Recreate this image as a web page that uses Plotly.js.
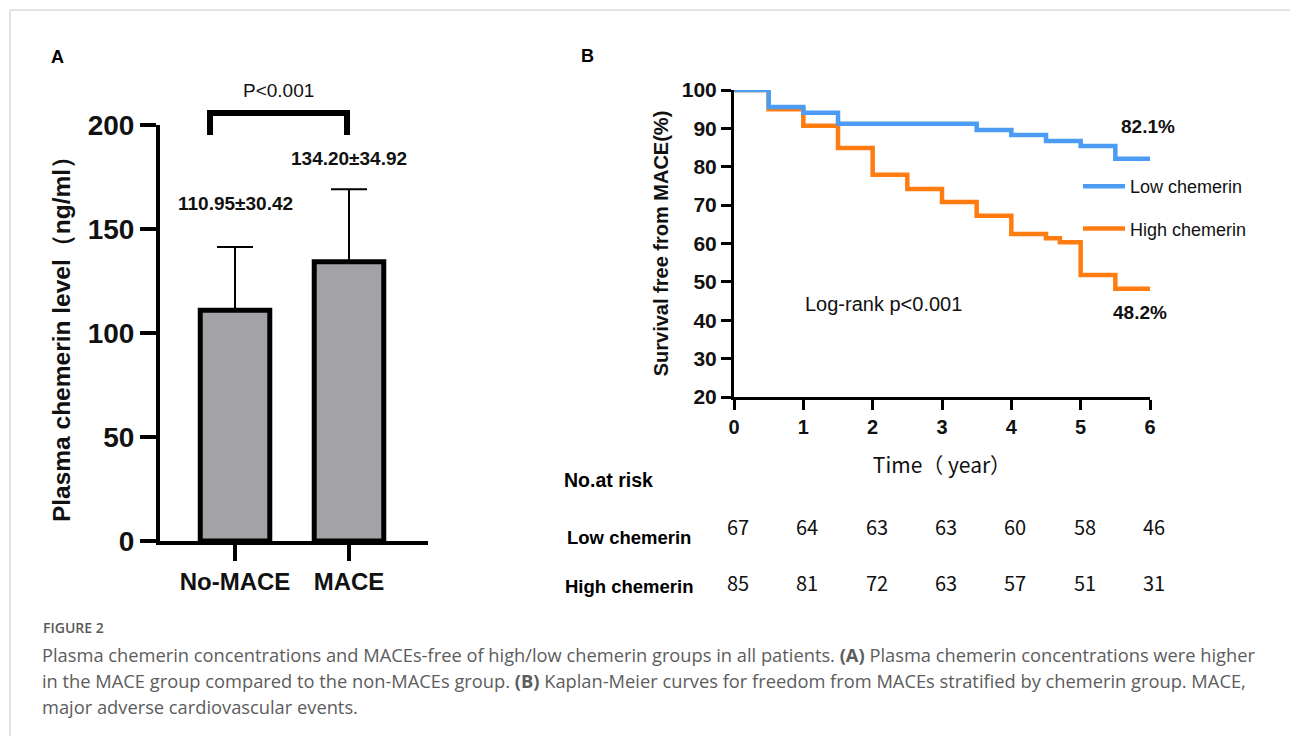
<!DOCTYPE html>
<html>
<head>
<meta charset="utf-8">
<script src="https://cdn.plot.ly/plotly-3.0.1.min.js"></script>
<style>html,body{margin:0;padding:0;background:#fff;}#chart{width:1290px;height:736px;}</style>
</head>
<body>
<div id="chart"></div>
<script>
// ---- Panel A data ----
const groups = ['No-MACE', 'MACE'];
const means = [110.95, 134.20];
const sds = [30.42, 34.92];
const pValueText = 'P<0.001';

// ---- Panel B data (Kaplan-Meier step points) ----
const seriesNames = ['Low chemerin', 'High chemerin'];
const lowTime = [0, 0.5, 1.0, 1.5, 3.5, 4.0, 4.5, 5.0, 5.5, 6.0];
const lowSurv = [100, 95.6, 94.1, 91.2, 89.6, 88.3, 86.7, 85.4, 82.1, 82.1];
const highTime = [0, 0.5, 1.0, 1.5, 2.0, 2.5, 3.0, 3.5, 4.0, 4.5, 4.7, 5.0, 5.5, 6.0];
const highSurv = [100, 95.0, 90.7, 84.9, 77.9, 74.2, 70.8, 67.2, 62.5, 61.4, 60.3, 51.8, 48.2, 48.2];
const logRankText = 'Log-rank p<0.001';

// ---- Number at risk ----
const riskTimes = [0, 1, 2, 3, 4, 5, 6];
const riskLow = [67, 64, 63, 63, 60, 58, 46];
const riskHigh = [85, 81, 72, 63, 57, 51, 31];

const W = 1290, H = 736;
const px = v => v / W;
const py = v => 1 - v / H;
const ARIAL = 'Liberation Sans, Arial, sans-serif';
const CJK = 'Noto Sans CJK SC, sans-serif';
const BLUE = '#4d9cf4';
const ORANGE = '#ff7d10';

const traces = [
  {
    type: 'bar', x: groups, y: means, xaxis: 'x', yaxis: 'y',
    width: 0.61,
    marker: {color: '#a3a2a7', line: {color: '#000', width: 5}},
    error_y: {type: 'data', symmetric: false, array: sds, arrayminus: sds.map(() => 0),
              color: '#000', thickness: 2, width: 18},
    showlegend: false, hoverinfo: 'x+y'
  },
  {
    type: 'scatter', mode: 'lines', x: highTime, y: highSurv, xaxis: 'x2', yaxis: 'y2',
    name: seriesNames[1], legendgroup: 'high', legendrank: 2, cliponaxis: false,
    line: {shape: 'hv', color: ORANGE, width: 4.5}
  },
  {
    type: 'scatter', mode: 'lines', x: lowTime, y: lowSurv, xaxis: 'x2', yaxis: 'y2',
    name: seriesNames[0], legendgroup: 'low', legendrank: 1, cliponaxis: false,
    line: {shape: 'hv', color: BLUE, width: 4.5}
  }
];

const annotations = [];
function ann(o) {
  annotations.push(Object.assign({showarrow: false, xanchor: 'center', yanchor: 'middle'}, o));
}
// panel letters
ann({xref: 'paper', yref: 'paper', x: px(57), y: py(57), text: '<b>A</b>', font: {family: ARIAL, size: 18, color: '#000'}});
ann({xref: 'paper', yref: 'paper', x: px(587), y: py(56), text: '<b>B</b>', font: {family: ARIAL, size: 18, color: '#000'}});
// P value
ann({xref: 'paper', yref: 'paper', x: px(278), y: py(91), text: pValueText, font: {family: ARIAL, size: 19, color: '#111'}});
// mean ± sd labels
const labelOffsets = [21, 15];
groups.forEach((g, i) => {
  ann({xref: 'x', yref: 'y', x: g, y: means[i] + sds[i] + labelOffsets[i],
    text: '<b>' + means[i].toFixed(2) + '±' + sds[i].toFixed(2) + '</b>',
    font: {family: ARIAL, size: 19, color: '#111'}});
});
// final survival labels
ann({xref: 'x2', yref: 'y2', x: 5.97, y: lowSurv[lowSurv.length - 1] + 8.5,
  text: '<b>' + lowSurv[lowSurv.length - 1].toFixed(1) + '%</b>', font: {family: ARIAL, size: 19, color: '#111'}});
ann({xref: 'x2', yref: 'y2', x: 5.86, y: highSurv[highSurv.length - 1] - 6.1,
  text: '<b>' + highSurv[highSurv.length - 1].toFixed(1) + '%</b>', font: {family: ARIAL, size: 19, color: '#111'}});
ann({xref: 'x2', yref: 'y2', x: 2.16, y: 44.2, text: logRankText, font: {family: ARIAL, size: 20, color: '#111'}});
// number at risk
ann({xref: 'paper', yref: 'paper', x: px(562), y: py(480), xanchor: 'left', text: '<b>No.at risk</b>',
  font: {family: ARIAL, size: 19.5, color: '#000'}});
ann({xref: 'paper', yref: 'paper', x: px(565), y: py(537), xanchor: 'left', text: '<b>' + seriesNames[0] + '</b>',
  font: {family: ARIAL, size: 18.5, color: '#000'}});
ann({xref: 'paper', yref: 'paper', x: px(563), y: py(586), xanchor: 'left', text: '<b>' + seriesNames[1] + '</b>',
  font: {family: ARIAL, size: 18.5, color: '#000'}});
riskTimes.forEach((t, i) => {
  ann({xref: 'x2', yref: 'paper', x: t, xshift: 4, y: py(526), text: String(riskLow[i]),
    font: {family: CJK, size: 20, color: '#111'}});
  ann({xref: 'x2', yref: 'paper', x: t, xshift: 4, y: py(582), text: String(riskHigh[i]),
    font: {family: CJK, size: 20, color: '#111'}});
});
// caption
const capFont = {family: 'Open Sans, sans-serif', size: 18.3, color: '#5c5c5c'};
ann({xref: 'paper', yref: 'paper', x: px(41), y: py(627), xanchor: 'left', text: 'FIGURE 2',
  font: {family: 'Open Sans, sans-serif', size: 14, weight: 600, color: '#5a5a5a'}});
const capLines = [
  'Plasma chemerin concentrations and MACEs-free of high/low chemerin groups in all patients. <b>(A)</b> Plasma chemerin concentrations were higher',
  'in the MACE group compared to the non-MACEs group. <b>(B)</b> Kaplan-Meier curves for freedom from MACEs stratified by chemerin group. MACE,',
  'major adverse cardiovascular events.'
];
const capY = [654, 680, 706];
capLines.forEach((t, i) => ann({xref: 'paper', yref: 'paper', x: px(40), y: py(capY[i]), xanchor: 'left',
  text: t, font: capFont}));

const shapes = [
  // figure frame (top and left)
  {type: 'line', xref: 'paper', yref: 'paper', x0: px(10), x1: 1, y0: py(10), y1: py(10), line: {color: '#c8c8c8', width: 1}},
  {type: 'line', xref: 'paper', yref: 'paper', x0: px(10), x1: px(10), y0: 0, y1: py(10), line: {color: '#c8c8c8', width: 1}},
  // significance bracket
  {type: 'path', xref: 'x domain', yref: 'y domain',
   path: 'M 0.1866 0.976 L 0.1866 1.0288 L 0.6978 1.0288 L 0.6978 0.976', line: {color: '#000', width: 6}}
];

const layout = {
  width: W, height: H,
  margin: {l: 0, r: 0, t: 0, b: 0},
  paper_bgcolor: '#fff', plot_bgcolor: '#fff',
  font: {family: ARIAL, color: '#000'},
  showlegend: true,
  legend: {x: px(1078), y: py(168), xanchor: 'left', yanchor: 'top', traceorder: 'grouped',
           tracegroupgap: 16, itemwidth: 42, font: {family: ARIAL, size: 18, color: '#111'}, bgcolor: 'rgba(0,0,0,0)'},
  xaxis: {domain: [px(160), px(428)], anchor: 'y', type: 'category', range: [-0.658, 1.693],
          showline: true, linecolor: '#000', linewidth: 4, ticks: 'outside', ticklen: 16, tickwidth: 4, tickcolor: '#000',
          tickfont: {family: ARIAL, size: 24, weight: 'bold', color: '#111'}, showgrid: false, zeroline: false},
  yaxis: {domain: [py(541), py(125)], anchor: 'x', range: [0, 200], dtick: 50, tick0: 0,
          showline: true, linecolor: '#000', linewidth: 4, ticks: 'outside', ticklen: 16, tickwidth: 4, tickcolor: '#000',
          tickfont: {family: ARIAL, size: 28, weight: 'bold', color: '#111'}, showgrid: false, zeroline: false,
          title: {text: 'Plasma chemerin level（ng/ml）', font: {family: ARIAL, size: 24.5, weight: 'bold', color: '#111'}, standoff: 11}},
  xaxis2: {domain: [px(734), px(1150)], anchor: 'y2', range: [0, 6], dtick: 1, tick0: 0,
           showline: true, linecolor: '#000', linewidth: 3, ticks: 'outside', ticklen: 10, tickwidth: 3, tickcolor: '#000',
           tickfont: {family: ARIAL, size: 20, weight: 'bold', color: '#111'}, showgrid: false, zeroline: false,
           title: {text: 'Time（ year）', font: {family: CJK, size: 21, color: '#111'}, standoff: 22}},
  yaxis2: {domain: [py(397), py(90)], anchor: 'x2', range: [20, 100], dtick: 10, tick0: 0,
           showline: true, linecolor: '#000', linewidth: 3, ticks: 'outside', ticklen: 10, tickwidth: 3, tickcolor: '#000',
           tickfont: {family: ARIAL, size: 21, weight: 'bold', color: '#111'}, showgrid: false, zeroline: false,
           title: {text: 'Survival free from MACE(%)', font: {family: ARIAL, size: 20, weight: 'bold', color: '#111'}, standoff: 8}},
  annotations: annotations,
  shapes: shapes
};

Plotly.newPlot('chart', traces, layout, {displayModeBar: false, staticPlot: true});
</script>
</body>
</html>
